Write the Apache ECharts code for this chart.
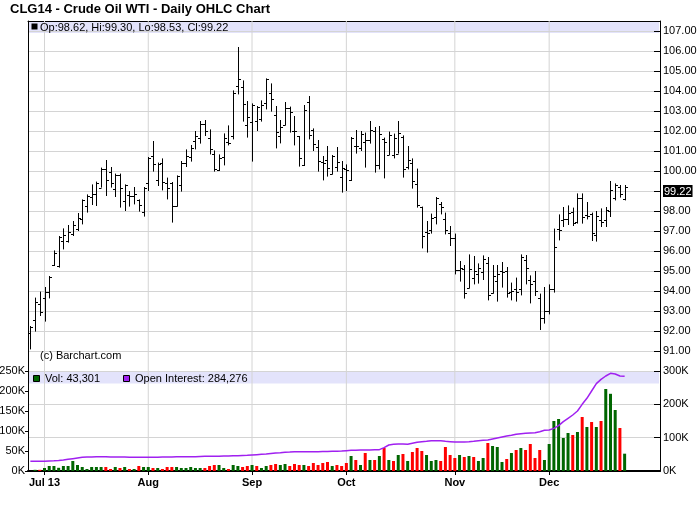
<!DOCTYPE html>
<html><head><meta charset="utf-8">
<script src="https://cdn.jsdelivr.net/npm/echarts@6/dist/echarts.min.js"></script>
<style>html,body{margin:0;padding:0;background:#fff}#c{width:700px;height:512px}</style>
</head><body><div id="c"></div>
<script>
// trading days per month (categories)
const junDays=[26,27,28];
const julDays=[1,2,3,5,8,9,10,11,12,15,16,17,18,19,22,23,24,25,26,29,30,31];
const augDays=[1,2,5,6,7,8,9,12,13,14,15,16,19,20,21,22,23,26,27,28,29,30];
const sepDays=[3,4,5,6,9,10,11,12,13,16,17,18,19,20,23,24,25,26,27,30];
const octDays=[1,2,3,4,7,8,9,10,11,14,15,16,17,18,21,22,23,24,25,28,29,30,31];
const novDays=[1,4,5,6,7,8,11,12,13,14,15,18,19,20,21,22,25,26,27,29];
const decDays=[2,3,4,5,6,9,10,11,12,13,16,17,18,19,20,23,24];
const padDates=['2013-12-26','2013-12-27','2013-12-30','2013-12-31','2014-01-02','2014-01-03','2014-01-06'];
const monthStarts=['2013-07-01','2013-08-01','2013-09-03','2013-10-01','2013-11-01','2013-12-02'];
const monthLabels=['Jul 13','Aug','Sep','Oct','Nov','Dec'];

const opens=[91.88,92.53,93.33,93.67,93.97,95.3,95.25,96.5,96.5,96.87,
97.08,97.58,98.25,98.7,98.83,99.17,100.08,99.97,99.08,99.8,
98.5,98.8,98.75,98.57,97.97,99.42,100.75,99.53,100.42,99.42,
99.42,98.25,99.3,100.42,100.7,101.5,101.67,102.37,101.67,100.83,
100.07,100.7,101.47,101.75,104.25,104.2,102.28,102.47,102.5,102.58,
103.42,103.88,102.8,101.75,102.28,103.17,102.0,101.75,100.3,103.45,
102.03,101.2,100.47,100.55,99.83,100.2,99.7,100.08,99.53,101.25,
101.13,101.45,101.53,102.0,100.3,101.62,100.8,100.8,100.87,101.72,
100.22,100.38,99.37,98.22,96.97,97.03,97.7,98.33,97.58,96.88,
96.63,95.03,95.08,94.17,94.67,94.87,94.97,95.42,93.88,94.5,
95.0,95.0,93.97,94.08,94.08,95.55,94.53,94.5,93.67,92.63,
93.0,94.08,97.08,97.55,97.58,97.95,97.47,98.67,97.78,97.87,
96.8,97.53,97.55,98.0,98.67,99.2,98.62];
const highs=[92.25,93.67,93.97,94.2,94.75,96.03,96.75,97.13,97.3,97.5,
97.9,98.58,98.83,99.33,99.47,100.17,100.55,100.2,99.87,99.87,
99.33,99.0,99.2,98.58,99.2,100.7,101.5,100.42,100.63,99.67,
99.45,99.78,100.5,101.08,101.3,102.0,102.5,102.55,102.08,101.03,
100.83,101.88,102.28,104.03,106.2,104.53,103.5,103.38,103.25,103.53,
104.63,104.38,103.25,102.55,103.45,103.22,102.75,101.75,103.3,103.75,
102.13,101.55,100.75,101.25,100.8,101.2,100.5,100.33,101.7,102.05,
102.0,101.92,102.5,102.2,102.25,101.67,101.97,101.87,102.5,101.78,
101.25,100.63,100.12,98.22,97.5,97.87,98.7,98.45,97.92,97.25,
96.87,95.5,95.3,95.83,95.75,95.38,95.78,95.7,95.3,95.3,
95.45,95.2,94.42,94.67,95.83,95.8,94.78,95.0,93.87,94.2,
94.33,97.12,97.83,98.2,98.28,98.17,98.88,98.88,98.45,97.92,
98.0,98.13,98.2,99.5,99.38,99.3,99.30];
const lows=[91.08,91.97,92.75,92.47,93.63,95.25,95.17,96.08,96.42,96.75,
97.0,97.33,97.92,98.3,98.25,99.17,98.75,99.17,98.7,98.17,
98.0,98.22,98.33,97.97,97.72,99.0,99.97,99.25,99.03,98.58,
97.42,98.22,98.97,100.2,100.47,101.08,101.37,101.75,100.83,99.97,
100.0,100.28,101.28,101.58,103.83,102.47,101.67,100.47,102.0,102.47,
103.08,102.97,101.13,101.38,102.28,101.92,101.28,100.22,100.25,101.58,
101.0,99.97,99.53,99.72,99.83,99.97,98.92,99.0,99.5,100.87,
101.0,100.17,101.37,99.92,100.08,99.63,100.8,100.63,100.87,99.67,
100.08,99.12,98.17,96.13,95.92,96.87,97.33,97.83,96.83,96.25,
94.83,94.47,93.62,94.13,94.33,94.37,94.55,93.53,93.87,93.47,
94.17,93.67,93.53,93.47,93.78,94.33,93.38,93.75,92.05,92.37,
92.83,93.92,96.53,97.2,97.3,97.25,97.37,97.37,97.58,96.5,
96.47,97.2,97.2,97.7,98.53,98.67,98.53];
const closes=[92.2,93.45,92.97,93.97,94.7,95.9,96.7,96.8,96.97,97.3,
97.63,98.53,98.75,98.83,99.42,100.08,99.53,99.42,99.8,99.17,
99.3,98.75,98.85,98.3,99.17,100.67,100.33,100.37,99.47,99.13,
98.25,99.75,100.42,100.75,101.17,101.75,102.33,102.0,101.08,100.08,
100.67,101.67,101.42,103.92,104.58,103.33,102.7,103.3,103.22,103.3,
104.58,103.58,101.97,102.2,103.17,102.95,102.0,100.63,103.05,101.78,
101.33,100.5,100.38,100.13,100.75,100.47,100.13,100.03,101.67,101.25,
101.83,101.53,102.03,100.3,101.87,101.47,101.78,101.63,101.88,100.08,
100.55,99.5,98.28,96.75,96.92,97.67,98.67,98.2,97.03,96.63,
95.03,95.13,93.88,95.08,95.0,95.17,95.58,93.8,94.75,94.85,
94.97,93.9,94.0,93.95,95.7,95.13,94.33,94.0,92.63,93.0,
94.08,96.22,97.05,97.58,97.88,97.42,98.63,97.72,97.75,96.92,
97.75,97.47,98.03,99.03,99.3,98.87,99.22];
// volume and open interest, thousands
const volK=[0,3,3,7.5,12.5,12.5,8,12.5,12.5,25,15,10,5,10,10,10,10,5,10,7.5,10,5,5,12.5,
10,10,7.5,7.5,5,10,10,10,7.5,7.5,10,7.5,7.5,7.5,12.5,15,15,7.5,5,15,12.5,10,12.5,
15,12.5,7.5,12.5,15,17.5,15,17.5,12.5,17.5,15,15,12.5,20,15,20,22.5,12.5,15,12.5,20,37.5,27.5,
15,45,27.5,27.5,37.5,57.5,27.5,25,40,42.5,25,47.5,57.5,50,40,25,27.5,25,60,40,32.5,40,35,37.5,
35,25,32.5,70,62.5,60,22.5,30,45,52.5,57.5,52.5,67.5,32.5,52.5,27.5,67.5,125,130,82.5,95,90,97.5,135,110,122.5,110,125,205,193,152.5,107.5,43.301];
const oiK=[29,29,29.5,29.5,30,30.5,31.5,33,35,37,39,41,42,42,42.5,42.5,42.5,42,42,42,
42,41.5,41.5,41.5,41,41,41.5,41.5,42,42,42,42.5,42.5,43,43,43,43.5,44,44,44.5,
44.5,45,45,45.5,46,46.5,47,48,49,50,51,52.5,54,55,56.5,57,58,58,58,58,
58,58,58.5,58.5,59,59.5,60,61,62,62.5,63,63,63,63.5,64,70,78,80,81,81,
80,83,86,88,89,91,91,90.5,89,88,87,87,87,87.5,89,91,92,93,96,99,
102,105,107,110,112,113,114,115,118,122,123,128,136,148,158,168,180,200,218,240,
262,275,285,293,291,285,284.276];

const dates=[];
[[2013,6,junDays],[2013,7,julDays],[2013,8,augDays],[2013,9,sepDays],[2013,10,octDays],[2013,11,novDays],[2013,12,decDays]]
 .forEach(([y,m,days])=>days.forEach(d=>dates.push(y+'-'+String(m).padStart(2,'0')+'-'+String(d).padStart(2,'0'))));
const cats=dates.concat(padDates);
const n=closes.length, last=n-1;
const FONT='"Liberation Sans", Arial, sans-serif';
const GREEN='#006600', RED='#ff0000', PURPLE='#a020f0', GRID='#d4d4d4';
const lastTick=Math.round(closes[last]);
const fmt=v=>Math.round(v).toLocaleString('en-US');

const ohlcData=closes.map((c,i)=>[i,opens[i],highs[i],lows[i],c]);
const monthIdx=monthStarts.map(d=>cats.indexOf(d));
const isMonth=(idx,val)=>monthIdx.indexOf(idx)>=0||monthStarts.indexOf(val)>=0;
// vertical month gridlines as plain line series: one segment per month start, '-' breaks the path
function monthLineData(y0,y1){
  const out=[];
  monthStarts.forEach(d=>{out.push([d,y0]);out.push([d,y1]);out.push([d,'-']);});
  return out;
}
const gridLineSeries=(xi,yi,y0,y1)=>({type:'line',xAxisIndex:xi,yAxisIndex:yi,data:monthLineData(y0,y1),
  showSymbol:false,symbol:'none',connectNulls:false,silent:true,z:1,clip:true,animation:false,
  lineStyle:{color:GRID,width:1},emphasis:{disabled:true}});

const chart=echarts.init(document.getElementById('c'),null,{renderer:'canvas'});
const catAxis=(gi,extra)=>Object.assign({type:'category',gridIndex:gi,data:cats,boundaryGap:true,
  axisLabel:{show:false},axisTick:{show:false},splitLine:{show:false},axisLine:{show:false}},extra);
const txt=(x,y,text,font)=>({type:'text',z:10,x:x,y:y,style:{text:text,font:font||('11px '+FONT),fill:'#000',
  textAlign:'left',textVerticalAlign:'middle',align:'left',verticalAlign:'middle'}});
chart.setOption({
  animation:false,
  grid:[{left:28,right:40,top:21,height:350,outerBoundsMode:'none'},
        {left:28,right:40,top:371,height:100,outerBoundsMode:'none'}],
  xAxis:[
    catAxis(0,{}),
    catAxis(1,{axisLine:{show:true,lineStyle:{color:'#000',width:1}},
      axisTick:{show:true,alignWithLabel:true,interval:isMonth,length:4,lineStyle:{color:'#000'}},
      axisLabel:{show:true,interval:isMonth,margin:6,color:'#000',fontFamily:FONT,fontSize:11,fontWeight:'bold',
        formatter:v=>monthLabels[monthStarts.indexOf(v)]||''}}),
    catAxis(0,{position:'top',axisLine:{show:true,lineStyle:{color:'#000',width:1}}}),
    catAxis(1,{position:'top',axisLine:{show:true,lineStyle:{color:'#000',width:2}}})
  ],
  yAxis:[
    {type:'value',gridIndex:0,position:'right',min:90,max:107.5,interval:1,
      axisLine:{show:true,lineStyle:{color:'#000'}},
      axisTick:{show:true,inside:true,length:6,lineStyle:{color:'#000'}},
      splitLine:{show:true,lineStyle:{color:GRID,width:1}},
      axisLabel:{margin:3,color:'#000',fontFamily:FONT,fontSize:11,
        formatter:v=>(v%1!==0||v===90)?'':(v===lastTick?'{last|'+closes[last].toFixed(2)+'}':v.toFixed(2)),
        rich:{last:{backgroundColor:'#000',color:'#fff',fontFamily:FONT,fontSize:11,padding:[1,1,0,1]}}}},
    {type:'value',gridIndex:0,position:'left',min:90,max:107.5,interval:1,
      axisLine:{show:true,lineStyle:{color:'#000'}},axisTick:{show:false},axisLabel:{show:false},splitLine:{show:false}},
    {type:'value',gridIndex:1,position:'left',min:0,max:250,interval:50,
      axisLine:{show:true,lineStyle:{color:'#000'}},
      axisTick:{show:true,length:3,lineStyle:{color:'#000'}},splitLine:{show:false},
      axisLabel:{margin:3,color:'#000',fontFamily:FONT,fontSize:11,formatter:v=>v+'K'}},
    {type:'value',gridIndex:1,position:'right',min:0,max:300,interval:100,
      axisLine:{show:true,lineStyle:{color:'#000'}},
      axisTick:{show:true,inside:true,length:6,lineStyle:{color:'#000'}},
      splitLine:{show:true,lineStyle:{color:GRID,width:1}},
      axisLabel:{margin:3,color:'#000',fontFamily:FONT,fontSize:11,formatter:v=>v+'K'}}
  ],
  series:[
    gridLineSeries(0,0,90,107.5),
    gridLineSeries(1,2,0,250),
    {type:'custom',xAxisIndex:0,yAxisIndex:0,data:ohlcData,encode:{x:0,y:[1,2,3,4]},z:3,clip:true,
      renderItem:function(params,api){
        const i=api.value(0);
        const px=api.coord([i,api.value(2)]);
        const cx=Math.round(px[0])+0.5;
        const yh=px[1], yl=api.coord([i,api.value(3)])[1];
        const yo=Math.round(api.coord([i,api.value(1)])[1])+0.5;
        const yc=Math.round(api.coord([i,api.value(4)])[1])+0.5;
        const st={stroke:'#000',lineWidth:1};
        return {type:'group',children:[
          {type:'line',shape:{x1:cx,y1:yh,x2:cx,y2:yl},style:st},
          {type:'line',shape:{x1:cx-2.5,y1:yo,x2:cx,y2:yo},style:st},
          {type:'line',shape:{x1:cx,y1:yc,x2:cx+2.5,y2:yc},style:st}
        ]};
      }},
    {type:'bar',xAxisIndex:1,yAxisIndex:2,data:volK,barWidth:3,z:3,
      itemStyle:{color:p=>(p.dataIndex===0||closes[p.dataIndex]>=closes[p.dataIndex-1])?GREEN:RED}},
    {type:'line',xAxisIndex:1,yAxisIndex:3,data:oiK,showSymbol:false,symbol:'none',z:4,
      lineStyle:{color:PURPLE,width:1.5}}
  ],
  graphic:[
    {type:'rect',z:0,shape:{x:29,y:22,width:630,height:11},style:{fill:'#e3e3fb'}},
    {type:'rect',z:0,shape:{x:29,y:372,width:630,height:11.5},style:{fill:'#e3e3fb'}},
    txt(10,9,'CLG14 - Crude Oil WTI - Daily OHLC Chart','bold 13px '+FONT),
    {type:'rect',z:10,shape:{x:31.5,y:23.5,width:6,height:6},style:{fill:'#000'}},
    txt(40,27.5,'Op:'+opens[last].toFixed(2)+', Hi:'+highs[last].toFixed(2)+', Lo:'+lows[last].toFixed(2)+', Cl:'+closes[last].toFixed(2)),
    {type:'rect',z:10,shape:{x:33.5,y:375.5,width:6,height:6},style:{fill:GREEN,stroke:'#000',lineWidth:1}},
    txt(45,378.5,'Vol: '+fmt(volK[last]*1000)),
    {type:'rect',z:10,shape:{x:123.5,y:375.5,width:6,height:6},style:{fill:PURPLE,stroke:'#000',lineWidth:1}},
    txt(135,378.5,'Open Interest: '+fmt(oiK[last]*1000)),
    txt(40,356,'(c) Barchart.com')
  ]
});
</script></body></html>
